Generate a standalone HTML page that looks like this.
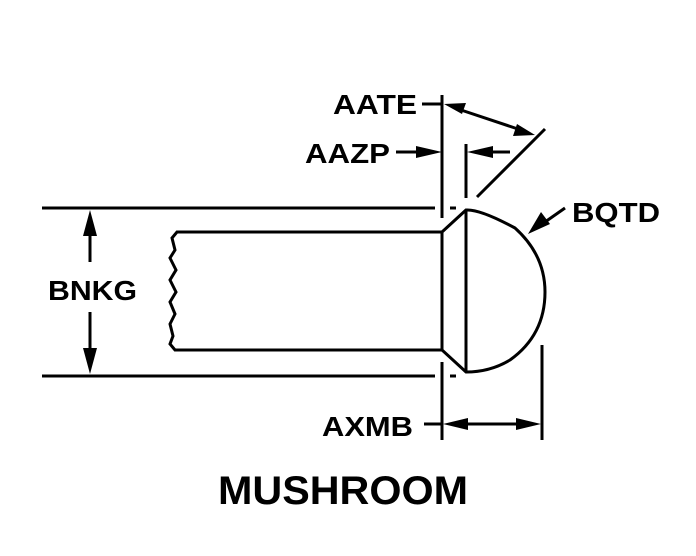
<!DOCTYPE html>
<html><head><style>
html,body{margin:0;padding:0;background:#fff;}
svg{display:block;}
text{font-family:"Liberation Sans",sans-serif;font-weight:bold;fill:#000;}
</style></head><body>
<svg width="696" height="556" viewBox="0 0 696 556" xmlns="http://www.w3.org/2000/svg">
<g stroke="#000" stroke-width="3" fill="none">
<line x1="42" y1="208" x2="435" y2="208"/>
<line x1="450" y1="208" x2="456" y2="208"/>
<line x1="42" y1="376" x2="435" y2="376"/>
<line x1="450" y1="376" x2="456" y2="376"/>
<line x1="442" y1="95" x2="442" y2="218"/>
<line x1="442" y1="362" x2="442" y2="440"/>
<line x1="466" y1="144" x2="466" y2="198"/>
<line x1="466" y1="210" x2="466" y2="372"/>
<line x1="542" y1="345" x2="542" y2="440"/>
<line x1="477" y1="197" x2="545" y2="129"/>
<path d="M442 232 H177 L172 238 L175 250 L170 258 L176 270 L170 280 L176 292 L170 302 L175 314 L170 324 L173 336 L170 344 L175 350 H442"/>
<path d="M442 232 L466 210 Q480 209 515 228 Q545 255 545 292 Q545 335 510 360 Q490 372 466 372 L442 350 Z"/>
<line x1="90" y1="228" x2="90" y2="262"/>
<line x1="90" y1="312" x2="90" y2="356"/>
<line x1="422" y1="104" x2="442" y2="104"/>
<line x1="396" y1="152" x2="424" y2="152"/>
<line x1="484" y1="152" x2="510" y2="152"/>
<line x1="458" y1="109" x2="518" y2="129"/>
<line x1="424" y1="424" x2="442" y2="424"/>
<line x1="460" y1="424" x2="524" y2="424"/>
<line x1="565" y1="208" x2="545" y2="222"/>
</g>
<g fill="#000">
<polygon points="90,210 83,236 97,236"/>
<polygon points="90,374 83,348 97,348"/>
<polygon points="442,152 416,146 416,158"/>
<polygon points="467,152 493,146 493,158"/>
<polygon points="444,104 466,103 462,114"/>
<polygon points="535,135 513,136 517,124"/>
<polygon points="443,424 468,418 468,430"/>
<polygon points="541,424 516,418 516,430"/>
<polygon points="528,234 541,212 550,224"/>
</g>
<text x="333" y="114" font-size="28" textLength="84" lengthAdjust="spacingAndGlyphs">AATE</text>
<text x="305" y="163" font-size="28" textLength="85" lengthAdjust="spacingAndGlyphs">AAZP</text>
<text x="48" y="300" font-size="28" textLength="89" lengthAdjust="spacingAndGlyphs">BNKG</text>
<text x="572" y="222" font-size="28" textLength="88" lengthAdjust="spacingAndGlyphs">BQTD</text>
<text x="322" y="436" font-size="28" textLength="91" lengthAdjust="spacingAndGlyphs">AXMB</text>
<text x="218" y="504" font-size="40" textLength="250" lengthAdjust="spacingAndGlyphs">MUSHROOM</text>
</svg>
</body></html>
